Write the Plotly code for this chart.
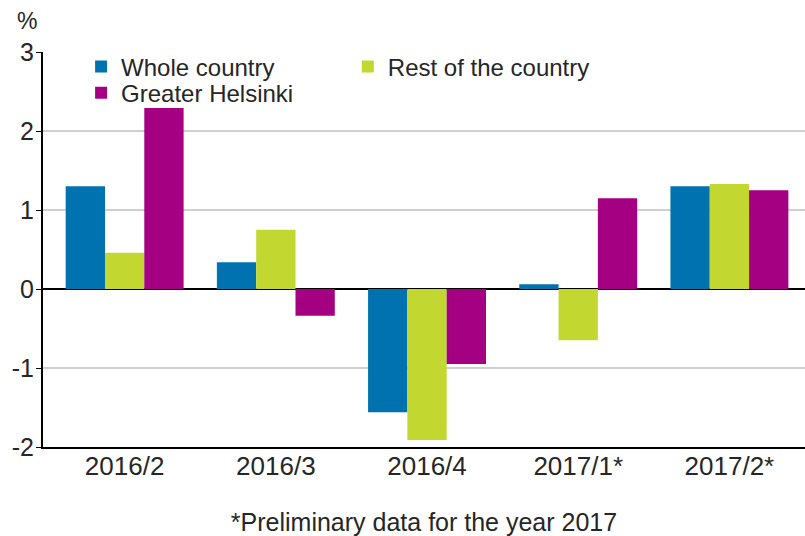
import plotly.graph_objects as go

categories = ["2016/2", "2016/3", "2016/4", "2017/1*", "2017/2*"]
whole_country = [1.30, 0.34, -1.56, 0.06, 1.30]
rest_of_country = [0.46, 0.75, -1.91, -0.65, 1.33]
greater_helsinki = [2.29, -0.34, -0.95, 1.15, 1.25]
y_ticks = [-2, -1, 0, 1, 2, 3]
y_tick_labels = ["-2", "-1", "0", "1", "2", "3"]

FONT = "Liberation Sans, Arial, sans-serif"
TXT = "#262626"

fig = go.Figure()
fig.add_bar(name="Whole country", x=categories, y=whole_country, legend="legend",
            showlegend=True, marker=dict(color="#0072B0", line=dict(width=0)))
fig.add_bar(name="Rest of the country", x=categories, y=rest_of_country, legend="legend2",
            showlegend=True, marker=dict(color="#C2D830", line=dict(width=0)))
fig.add_bar(name="Greater Helsinki", x=categories, y=greater_helsinki, legend="legend3",
            showlegend=True, marker=dict(color="#A50082", line=dict(width=0)))

leg_common = dict(bgcolor="rgba(0,0,0,0)", xanchor="left", yanchor="middle",
                  visible=True, font=dict(size=24, family=FONT, color=TXT))

fig.update_layout(
    width=805, height=536,
    margin=dict(l=43, r=0, t=52, b=89, autoexpand=False),
    paper_bgcolor="white", plot_bgcolor="white",
    barmode="group", bargap=0.22, bargroupgap=0,
    showlegend=True,
    font=dict(family=FONT, color=TXT, size=24),
    legend=dict(x=0.05, y=0.962, **leg_common),
    legend2=dict(x=0.40, y=0.962, **leg_common),
    legend3=dict(x=0.05, y=0.896, **leg_common),
    xaxis=dict(range=[-0.54, 4.5], showgrid=False, showline=True,
               linecolor="black", linewidth=2,
               ticks="", tickfont=dict(size=26), ticklabelstandoff=-5,
               title=dict(text="*Preliminary data for the year 2017",
                          font=dict(size=25), standoff=34)),
    yaxis=dict(range=[-2, 3], tickvals=y_ticks, ticktext=y_tick_labels, showgrid=True,
               gridcolor="#cfcfcf", gridwidth=2,
               zeroline=True, zerolinecolor="black", zerolinewidth=2,
               showline=True, linecolor="black", linewidth=2,
               ticks="outside", ticklen=5, tickcolor="black",
               ticklabelstandoff=-3, tickfont=dict(size=25)),
    shapes=[dict(type="rect", xref="paper", yref="y", x0=0.004, x1=0.724,
                 y0=2.6, y1=3.05, fillcolor="white", line=dict(width=0),
                 layer="above")],
    annotations=[dict(text="%", xref="paper", yref="paper", x=-0.037, y=1.0,
                      xanchor="left", yanchor="bottom", yshift=16, showarrow=False,
                      font=dict(size=23, color=TXT, family=FONT))],
)

fig.write_html("out.html", config={"displayModeBar": False},
               post_script="document.body.style.margin='0px';")
